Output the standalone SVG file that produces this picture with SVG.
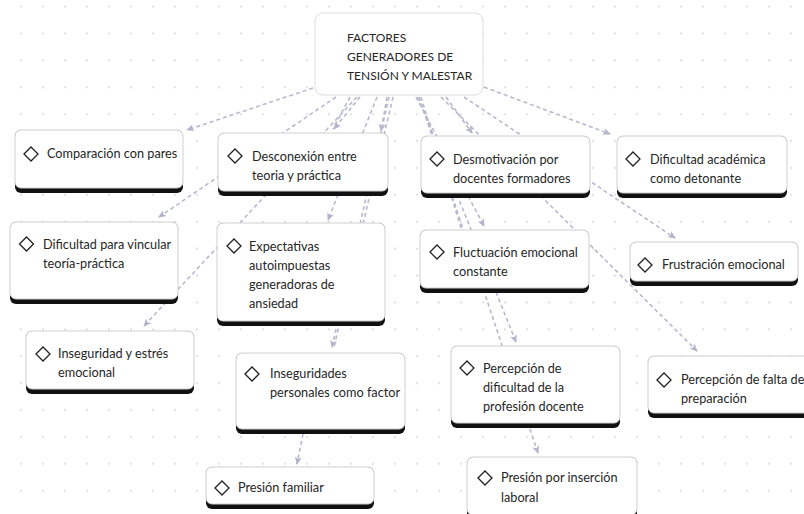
<svg xmlns="http://www.w3.org/2000/svg" width="804" height="514" viewBox="0 0 804 514">
<defs>
<pattern id="dots" patternUnits="userSpaceOnUse" x="10" y="20" width="22" height="26.9">
<circle cx="11" cy="13.45" r="1" fill="#d6d6d6"/>
</pattern>
<marker id="arr" viewBox="0 0 8 8" refX="7" refY="4" markerWidth="8" markerHeight="8" markerUnits="userSpaceOnUse" orient="auto">
<path d="M0,0.5 L8,4 L0,7.5 L2,4 Z" fill="#b3b3cc"/>
</marker>
<style>
.c{fill:none;stroke:#b8b8cf;stroke-width:1.6;stroke-dasharray:4 3}
.a{marker-end:url(#arr)}
.bar{fill:#111}
.box{fill:#fff;stroke:#cfcfcf;stroke-width:1}
.dia{fill:none;stroke:#222;stroke-width:1.3;stroke-linejoin:miter}
.t{font-family:"Lato","Open Sans","Liberation Sans",sans-serif;font-size:12.7px;fill:#262626}
.h{font-family:"Lato","Open Sans","Liberation Sans",sans-serif;font-size:12px;fill:#262626}
</style>
</defs>
<rect x="0" y="0" width="804" height="514" fill="#fff"/>
<rect x="0" y="0" width="804" height="514" fill="url(#dots)"/>

<g id="connectors">
<path class="c a" d="M313,88 L187,130"/>
<path class="c a" d="M336,97 L159,217"/>
<path class="c a" d="M357,97 L144,326"/>
<path class="c a" d="M360,97 L334,129"/>
<path class="c" d="M350,97 L333,129"/>
<path class="c a" d="M377,97 L328,220"/>
<path class="c a" d="M387,97 L381,131"/>
<path class="c a" d="M389,97 L332,347"/>
<path class="c" d="M393,97 L334,347"/>
<path class="c a" d="M303,434 L297,464"/>
<path class="c a" d="M484,87 L610,134"/>
<path class="c a" d="M446,97 L472,133"/>
<path class="c a" d="M416,97 L484,226"/>
<path class="c" d="M421,97 L461,228"/>
<path class="c a" d="M418,97 L516,342"/>
<path class="c a" d="M419,97 L538,453"/>
<path class="c a" d="M464,97 L675,238"/>
<path class="c a" d="M441,97 L697,351"/>
</g>

<g id="n-root">
<rect x="315" y="13" width="168" height="82" rx="8" fill="#fff" stroke="#dedede"/>
<text class="h" x="347" y="41.5">FACTORES</text>
<text class="h" x="347" y="60.5">GENERADORES DE</text>
<text class="h" x="347" y="79.5">TENSIÓN Y MALESTAR</text>
</g>

<g id="n-comparacion">
<rect class="bar" x="15" y="130" width="168" height="63" rx="6"/>
<rect class="box" x="15" y="130" width="168" height="58" rx="6"/>
<path class="dia" d="M24,154 L31,147 L38,154 L31,161 Z"/>
<text class="t" x="47" y="158">Comparación con pares</text>
</g>

<g id="n-desconexion">
<rect class="bar" x="218" y="133" width="170" height="63" rx="6"/>
<rect class="box" x="218" y="133" width="170" height="58" rx="6"/>
<path class="dia" d="M228,156 L235,149 L242,156 L235,163 Z"/>
<text class="t" x="252" y="160.5">Desconexión entre</text>
<text class="t" x="252" y="179.5">teoria y práctica</text>
</g>

<g id="n-desmotivacion">
<rect class="bar" x="421" y="136" width="169" height="62" rx="6"/>
<rect class="box" x="421" y="136" width="169" height="57" rx="6"/>
<path class="dia" d="M430,159 L437,152 L444,159 L437,166 Z"/>
<text class="t" x="453" y="163.5">Desmotivación por</text>
<text class="t" x="453" y="183">docentes formadores</text>
</g>

<g id="n-dificultad-academica">
<rect class="bar" x="617" y="136" width="170" height="62" rx="6"/>
<rect class="box" x="617" y="136" width="170" height="57" rx="6"/>
<path class="dia" d="M626,159 L633,152 L640,159 L633,166 Z"/>
<text class="t" x="650" y="163.5">Dificultad académica</text>
<text class="t" x="650" y="183">como detonante</text>
</g>

<g id="n-vincular">
<rect class="bar" x="10" y="222" width="168" height="82" rx="6"/>
<rect class="box" x="10" y="222" width="168" height="77" rx="6"/>
<path class="dia" d="M19.5,244 L26.5,237 L33.5,244 L26.5,251 Z"/>
<text class="t" x="43" y="248.5">Dificultad para vincular</text>
<text class="t" x="43" y="267.5">teoría-práctica</text>
</g>

<g id="n-expectativas">
<rect class="bar" x="217" y="223" width="168" height="103" rx="6"/>
<rect class="box" x="217" y="223" width="168" height="98" rx="6"/>
<path class="dia" d="M227,246 L234,239 L241,246 L234,253 Z"/>
<text class="t" x="249" y="250.5">Expectativas</text>
<text class="t" x="249" y="269.5">autoimpuestas</text>
<text class="t" x="249" y="289">generadoras de</text>
<text class="t" x="249" y="308">ansiedad</text>
</g>

<g id="n-inseguridad-estres">
<rect class="bar" x="26" y="331" width="168" height="63" rx="6"/>
<rect class="box" x="26" y="331" width="168" height="58" rx="6"/>
<path class="dia" d="M36,354 L43,347 L50,354 L43,361 Z"/>
<text class="t" x="58" y="358">Inseguridad y estrés</text>
<text class="t" x="58" y="377">emocional</text>
</g>

<g id="n-inseguridades">
<rect class="bar" x="236" y="353" width="169" height="81" rx="6"/>
<rect class="box" x="236" y="353" width="169" height="76" rx="6"/>
<path class="dia" d="M245,374 L252,367 L259,374 L252,381 Z"/>
<text class="t" x="270" y="378">Inseguridades</text>
<text class="t" x="270" y="397">personales como factor</text>
</g>

<g id="n-presion-familiar">
<rect class="bar" x="206" y="467" width="168" height="42" rx="6"/>
<rect class="box" x="206" y="467" width="168" height="37" rx="6"/>
<path class="dia" d="M215,488 L222,481 L229,488 L222,495 Z"/>
<text class="t" x="238" y="492">Presión familiar</text>
</g>

<g id="n-fluctuacion">
<rect class="bar" x="420" y="230" width="169" height="63" rx="6"/>
<rect class="box" x="420" y="230" width="169" height="58" rx="6"/>
<path class="dia" d="M430,252 L437,245 L444,252 L437,259 Z"/>
<text class="t" x="453" y="257">Fluctuación emocional</text>
<text class="t" x="453" y="275.5">constante</text>
</g>

<g id="n-frustracion">
<rect class="bar" x="630" y="242" width="168" height="44" rx="6"/>
<rect class="box" x="630" y="242" width="168" height="39" rx="6"/>
<path class="dia" d="M638,265 L645,258 L652,265 L645,272 Z"/>
<text class="t" x="662" y="269">Frustración emocional</text>
</g>

<g id="n-percepcion-dificultad">
<rect class="bar" x="451" y="346" width="169" height="82" rx="6"/>
<rect class="box" x="451" y="346" width="169" height="77" rx="6"/>
<path class="dia" d="M460,368 L467,361 L474,368 L467,375 Z"/>
<text class="t" x="483" y="372.5">Percepción de</text>
<text class="t" x="483" y="391.5">dificultad de la</text>
<text class="t" x="483" y="411">profesión docente</text>
</g>

<g id="n-presion-insercion">
<rect class="bar" x="467" y="457" width="170" height="63" rx="6"/>
<rect class="box" x="467" y="457" width="170" height="58" rx="6"/>
<path class="dia" d="M478,478 L485,471 L492,478 L485,485 Z"/>
<text class="t" x="501" y="482">Presión por inserción</text>
<text class="t" x="501" y="501.5">laboral</text>
</g>

<g id="n-falta-preparacion">
<rect class="bar" x="648" y="356" width="170" height="62" rx="6"/>
<rect class="box" x="648" y="356" width="170" height="57" rx="6"/>
<path class="dia" d="M657,380 L664,373 L671,380 L664,387 Z"/>
<text class="t" x="681" y="383.5">Percepción de falta de</text>
<text class="t" x="681" y="402.5">preparación</text>
</g>
</svg>
